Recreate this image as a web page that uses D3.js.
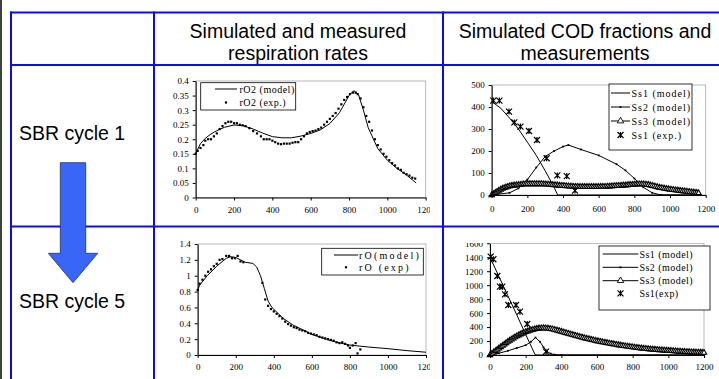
<!DOCTYPE html>
<html>
<head>
<meta charset="utf-8">
<script src="https://cdn.jsdelivr.net/npm/d3@7"></script>
<style>
  body { margin: 0; background: #fff; }
  svg { display: block; }
</style>
</head>
<body>
<svg id="fig" width="719" height="379"></svg>
<script>
// ---- data ----
const xTicks = [0, 200, 400, 600, 800, 1000, 1200];
const rTicks1 = [0, 0.05, 0.1, 0.15, 0.2, 0.25, 0.3, 0.35, 0.4];
const codTicks1 = [0, 100, 200, 300, 400, 500];
const rTicks5 = [0, 0.2, 0.4, 0.6, 0.8, 1, 1.2, 1.4];
const codTicks5 = [0, 200, 400, 600, 800, 1000, 1200, 1400, 1600];

// cycle 1 respiration
const rModelT1 = [0, 25, 50, 75, 100, 150, 200, 250, 300, 350, 400, 450, 500, 550, 600, 650, 700, 750, 800, 825, 850, 875, 900, 950, 1000, 1050, 1100, 1150];
const rModelV1 = [0.151, 0.185, 0.203, 0.216, 0.226, 0.241, 0.249, 0.246, 0.235, 0.221, 0.209, 0.205, 0.205, 0.211, 0.22, 0.232, 0.254, 0.291, 0.35, 0.367, 0.352, 0.30, 0.24, 0.168, 0.128, 0.10, 0.077, 0.05];
const rExpT1 = [0, 10, 25, 40, 50, 65, 80, 95, 110, 125, 140, 155, 170, 185, 200, 215, 230, 245, 260, 280, 300, 320, 340, 355, 370, 385, 400, 415, 430, 445, 460, 475, 490, 505, 520, 535, 550, 565, 580, 595, 610, 625, 640, 655, 670, 685, 700, 715, 730, 745, 760, 775, 790, 805, 820, 835, 845, 860, 875, 890, 905, 920, 935, 950, 965, 980, 995, 1010, 1025, 1040, 1055, 1070, 1085, 1100, 1115, 1130, 1145];
const rExpV1 = [0.15, 0.16, 0.17, 0.18, 0.195, 0.2, 0.2, 0.21, 0.22, 0.235, 0.245, 0.255, 0.26, 0.26, 0.255, 0.255, 0.25, 0.248, 0.245, 0.238, 0.228, 0.22, 0.21, 0.2, 0.2, 0.2, 0.195, 0.19, 0.185, 0.183, 0.185, 0.185, 0.185, 0.188, 0.19, 0.19, 0.2, 0.21, 0.22, 0.225, 0.228, 0.23, 0.235, 0.24, 0.25, 0.26, 0.27, 0.28, 0.29, 0.305, 0.32, 0.335, 0.345, 0.355, 0.36, 0.36, 0.355, 0.34, 0.31, 0.28, 0.26, 0.23, 0.2, 0.18, 0.165, 0.15, 0.14, 0.128, 0.118, 0.11, 0.1, 0.095, 0.085, 0.08, 0.075, 0.068, 0.065];

// cycle 5 respiration
const rModelT5 = [0, 10, 50, 100, 150, 175, 200, 250, 290, 310, 330, 350, 370, 390, 420, 450, 500, 550, 600, 650, 700, 750, 800, 900, 1000, 1100, 1200];
const rModelV5 = [0.82, 0.88, 1.0, 1.12, 1.22, 1.24, 1.23, 1.17, 1.155, 1.11, 1.0, 0.84, 0.68, 0.60, 0.53, 0.46, 0.38, 0.32, 0.26, 0.22, 0.18, 0.15, 0.125, 0.10, 0.08, 0.055, 0.035];
const rExpT5 = [0, 10, 25, 40, 55, 70, 85, 100, 115, 130, 150, 165, 180, 195, 210, 225, 240, 340, 355, 370, 385, 400, 415, 430, 445, 460, 475, 490, 505, 520, 535, 550, 565, 580, 595, 610, 625, 640, 655, 670, 685, 700, 715, 730, 745, 760, 775, 790, 800, 815, 830, 840, 855];
const rExpV5 = [0.82, 0.9, 0.95, 1.0, 1.05, 1.08, 1.12, 1.15, 1.2, 1.21, 1.25, 1.25, 1.22, 1.22, 1.25, 1.18, 1.17, 0.91, 0.7, 0.62, 0.58, 0.55, 0.52, 0.49, 0.46, 0.42, 0.39, 0.37, 0.35, 0.34, 0.32, 0.31, 0.3, 0.28, 0.27, 0.26, 0.25, 0.23, 0.22, 0.21, 0.2, 0.19, 0.18, 0.16, 0.15, 0.16, 0.14, 0.12, 0.09, 0.12, 0.15, 0.02, 0.07];

// COD fractions, cycle 1
const ss1T1 = [0, 50, 100, 150, 200, 250, 300, 350, 370, 1160];
const ss1V1 = [425, 395, 350, 300, 240, 180, 110, 35, 0, 0];
const ss2T1 = [0, 100, 150, 200, 250, 300, 350, 400, 430, 500, 600, 700, 750, 800, 850, 900, 950, 1160];
const ss2V1 = [0, 10, 30, 70, 125, 175, 200, 220, 227, 207, 180, 140, 112, 75, 35, 10, 0, 0];
const ss1ExpT1 = [9, 43, 97, 127, 161, 209, 254, 308, 368, 421, 467];
const ss1ExpV1 = [429, 429, 379, 330, 311, 291, 250, 167, 89, 86, 20];

// COD fractions, cycle 5
const ss1T5 = [0, 50, 100, 150, 200, 250, 255, 1200];
const ss1V5 = [1400, 1125, 850, 575, 295, 20, 0, 0];
const ss2T5 = [0, 50, 100, 150, 200, 230, 255, 280, 300, 320, 340, 360, 400, 1200];
const ss2V5 = [0, 25, 60, 100, 140, 190, 250, 190, 110, 50, 20, 5, 0, 0];
const ss1ExpT5 = [4, 19, 41, 56, 69, 84, 103, 146, 168, 209, 314];
const ss1ExpV5 = [1409, 1371, 1132, 979, 979, 869, 716, 716, 621, 444, 48];

// simulation output times for the dense Ss3 series
const simTime = [
  0, 10, 20, 30, 40, 50, 60, 70, 80, 90,
  100, 110, 120, 130, 140, 150, 160, 170, 180, 190,
  200, 210, 220, 230, 240, 250, 260, 270, 280, 290,
  300, 310, 320, 330, 340, 350, 360, 370, 380, 390,
  400, 410, 420, 430, 440, 450, 460, 470, 480, 490,
  500, 510, 520, 530, 540, 550, 560, 570, 580, 590,
  600, 610, 620, 630, 640, 650, 660, 670, 680, 690,
  700, 710, 720, 730, 740, 750, 760, 770, 780, 790,
  800, 810, 820, 830, 840, 850, 860, 870, 880, 890,
  900, 910, 920, 930, 940, 950, 960, 970, 980, 990,
  1000, 1010, 1020, 1030, 1040, 1050, 1060, 1070, 1080, 1090,
  1100, 1110, 1120, 1130, 1140, 1150, 1160, 1170, 1180, 1190, 1200];
const ss3V1 = [
  0, 5, 10, 15, 20, 25, 29, 32, 35, 38,
  40, 42, 43, 44, 45, 46, 47, 48, 49, 49,
  50, 50, 50, 50, 50, 50, 50, 50, 50, 49,
  49, 48, 48, 47, 46, 45, 45, 44, 43, 42,
  42, 41, 40, 40, 39, 39, 38, 38, 38, 37,
  37, 37, 37, 37, 37, 37, 37, 37, 37, 37,
  37, 38, 38, 38, 38, 39, 39, 40, 40, 41,
  41, 42, 42, 43, 44, 44, 45, 46, 46, 47,
  48, 48, 49, 49, 49, 49, 48, 47, 46, 44,
  42, 40, 38, 36, 34, 32, 31, 29, 28, 27,
  25, 24, 23, 22, 21, 20, 19, 18, 17, 16,
  15, 14, 13, 12, 11, 10, 9];
const ss3V5 = [
  0, 19, 38, 57, 76, 95, 114, 133, 152, 171,
  190, 207, 223, 240, 255, 270, 283, 296, 308, 319,
  330, 339, 348, 356, 363, 370, 375, 379, 382, 384,
  385, 384, 381, 378, 374, 370, 363, 356, 349, 342,
  335, 328, 320, 313, 305, 298, 291, 284, 276, 269,
  262, 255, 249, 242, 236, 230, 224, 218, 212, 206,
  200, 195, 190, 185, 180, 175, 170, 166, 161, 157,
  152, 148, 143, 139, 134, 130, 126, 123, 119, 116,
  112, 109, 105, 102, 98, 95, 92, 90, 87, 85,
  82, 80, 78, 75, 73, 71, 69, 67, 66, 64,
  62, 60, 58, 56, 54, 52, 50, 49, 47, 46,
  44, 43, 42, 40, 39, 38, 37, 36, 35, 34, 33];

// ---- drawing ----
const svg = d3.select("#fig");
const tableBlue = "#0c0cee";
const serif = "'Liberation Serif', 'Times New Roman', serif";
const sans = "'Liberation Sans', Arial, sans-serif";

// slide edge and table grid
svg.append("line").attr("x1", 1).attr("x2", 1).attr("y1", 0).attr("y2", 379)
  .attr("stroke", "#000").attr("stroke-width", 1.5);

[12.5, 65, 226.5].forEach(yy => {
  svg.append("line").attr("x1", 10).attr("x2", 719).attr("y1", yy).attr("y2", yy)
    .attr("stroke", tableBlue).attr("stroke-width", 2);
});
[11, 154, 443].forEach(xx => {
  svg.append("line").attr("x1", xx).attr("x2", xx).attr("y1", 11.5).attr("y2", 379)
    .attr("stroke", tableBlue).attr("stroke-width", 2);
});

// header and row labels
function label(x, y, txt, anchor) {
  svg.append("text").attr("x", x).attr("y", y).attr("text-anchor", anchor || "start")
    .style("font-family", sans).style("font-size", "19.5px").attr("fill", "#000").text(txt);
}
label(298, 38, "Simulated and measured", "middle");
label(298, 59.5, "respiration rates", "middle");
label(585, 38, "Simulated COD fractions and", "middle");
label(585, 59.5, "measurements", "middle");
label(19, 139.5, "SBR cycle 1");
label(19, 308, "SBR cycle 5");

// the arrow from cycle 1 to cycle 5
svg.append("path")
  .attr("d", "M60.3,162.7 L85.7,162.7 L85.7,253.3 L97.7,253.3 L73,282.7 L48.3,253.3 L60.3,253.3 Z")
  .attr("fill", "#3a66f8").attr("stroke", "#1b2f80").attr("stroke-width", 0.8);

function starPath(h) {
  return `M${-h},${-h}L${h},${h}M${-h},${h}L${h},${-h}M0,${-h}L0,${h}`;
}
const triSym = d3.symbol().type(d3.symbolTriangle).size(13);

function drawMarks(g, s, pts, x, y) {
  const line = d3.line().x(d => x(d[0])).y(d => y(d[1]));
  if (s.kind === "line" || s.kind === "lineDot" || s.kind === "tri") {
    g.append("path").datum(pts).attr("d", line)
      .attr("fill", "none").attr("stroke", "#000").attr("stroke-width", 1);
  }
  if (s.kind === "dots" || s.kind === "lineDot") {
    const sz = s.kind === "dots" ? 2.2 : 1.8;
    g.selectAll(null).data(pts).enter().append("rect")
      .attr("x", d => x(d[0]) - sz / 2).attr("y", d => y(d[1]) - sz / 2)
      .attr("width", sz).attr("height", sz).attr("fill", "#000");
  }
  if (s.kind === "tri") {
    g.selectAll(null).data(pts).enter().append("path")
      .attr("d", triSym)
      .attr("transform", d => `translate(${x(d[0])},${y(d[1])})`)
      .attr("fill", "#fff").attr("stroke", "#000").attr("stroke-width", 1.1);
  }
  if (s.kind === "star") {
    g.selectAll(null).data(pts).enter().append("path")
      .attr("d", starPath(3))
      .attr("transform", d => `translate(${x(d[0])},${y(d[1])})`)
      .attr("fill", "none").attr("stroke", "#000").attr("stroke-width", 1.2);
  }
}

function drawChart(c) {
  const clipId = "clip-" + c.id;
  svg.append("clipPath").attr("id", clipId).append("rect")
    .attr("x", c.area[0]).attr("y", c.area[1]).attr("width", c.area[2]).attr("height", c.area[3]);
  const g = svg.append("g").attr("clip-path", `url(#${clipId})`);

  const x = d3.scaleLinear().domain([0, 1200]).range(c.xr);
  const y = d3.scaleLinear().domain([0, c.yMax]).range(c.yr);

  // plot area frame
  g.append("rect").attr("x", x(0)).attr("y", y(c.yMax))
    .attr("width", x(1200) - x(0)).attr("height", y(0) - y(c.yMax))
    .attr("fill", "none").attr("stroke", "#a8a8a8").attr("stroke-width", 0.8);

  c.series.forEach(s => {
    const pts = s.v.map((v, i) => [s.t[i], v]);
    drawMarks(g, s, pts, x, y);
  });

  const ax = g.append("g").attr("transform", `translate(0,${y(0)})`)
    .call(d3.axisBottom(x).tickValues(xTicks).tickSize(3).tickSizeOuter(0).tickPadding(c.xPad).tickFormat(d => String(d)));
  const ay = g.append("g").attr("transform", `translate(${x(0)},0)`)
    .call(d3.axisLeft(y).tickValues(c.yTicks).tickSize(3).tickSizeOuter(0).tickPadding(4).tickFormat(d => String(d)));
  [ax, ay].forEach(a => {
    a.selectAll("text").style("font-family", serif).style("font-size", "9px").attr("fill", "#000");
    a.selectAll("line").attr("stroke", "#000");
    a.select(".domain").attr("stroke", "#000");
  });

  // legend
  const L = c.legend;
  g.append("rect").attr("x", L.box[0]).attr("y", L.box[1]).attr("width", L.box[2]).attr("height", L.box[3])
    .attr("fill", "#fff").attr("stroke", "#000").attr("stroke-width", 0.8);
  c.series.forEach((s, i) => {
    const ly = L.rows[i];
    const mid = (L.sample[0] + L.sample[1]) / 2;
    if (s.kind !== "dots" && s.kind !== "star") {
      g.append("line").attr("x1", L.sample[0]).attr("x2", L.sample[1]).attr("y1", ly).attr("y2", ly)
        .attr("stroke", "#000").attr("stroke-width", 1);
    }
    if (s.kind === "dots" || s.kind === "lineDot") {
      const sz = s.kind === "dots" ? 2.2 : 1.8;
      g.append("rect").attr("x", mid - sz / 2).attr("y", ly - sz / 2).attr("width", sz).attr("height", sz).attr("fill", "#000");
    }
    if (s.kind === "tri") {
      g.append("path").attr("d", d3.symbol().type(d3.symbolTriangle).size(18)).attr("transform", `translate(${mid},${ly})`)
        .attr("fill", "#fff").attr("stroke", "#000").attr("stroke-width", 0.9);
    }
    if (s.kind === "star") {
      g.append("path").attr("d", starPath(3)).attr("transform", `translate(${mid},${ly})`)
        .attr("fill", "none").attr("stroke", "#000").attr("stroke-width", 1.2);
    }
    g.append("text").attr("x", L.textX).attr("y", ly).attr("dy", "0.35em")
      .style("font-family", serif).style("font-size", L.fontSize + "px")
      .style("letter-spacing", L.spacing + "px").attr("fill", "#000").text(s.name);
  });
}

drawChart({
  id: "r1", area: [155, 67, 275, 159], xr: [195.7, 425.7], yr: [197.5, 81], yMax: 0.4, yTicks: rTicks1, xPad: 6,
  series: [
    { name: "rO2 (model)", kind: "line", t: rModelT1, v: rModelV1 },
    { name: "rO2 (exp.)", kind: "dots", t: rExpT1, v: rExpV1 }
  ],
  legend: { box: [200.7, 82.7, 95, 27.3], rows: [89, 102.5], sample: [215, 237], textX: 239.5, fontSize: 10, spacing: 0.5 }
});

drawChart({
  id: "c1", area: [444, 67, 275, 159], xr: [491.7, 705.7], yr: [195, 85], yMax: 500, yTicks: codTicks1, xPad: 8,
  series: [
    { name: "Ss1 (model)", kind: "line", t: ss1T1, v: ss1V1 },
    { name: "Ss2 (model)", kind: "lineDot", t: ss2T1, v: ss2V1 },
    { name: "Ss3 (model)", kind: "tri", t: simTime, v: ss3V1 },
    { name: "Ss1 (exp.)", kind: "star", t: ss1ExpT1, v: ss1ExpV1 }
  ],
  legend: { box: [609, 84, 83, 66], rows: [93, 107, 121, 135], sample: [611, 630], textX: 631.5, fontSize: 10, spacing: 1.0 }
});

drawChart({
  id: "r5", area: [155, 236, 275, 143], xr: [197.7, 426], yr: [355, 244], yMax: 1.4, yTicks: rTicks5, xPad: 6,
  series: [
    { name: "rO(model)", kind: "line", t: rModelT5, v: rModelV5 },
    { name: "rO (exp)", kind: "dots", t: rExpT5, v: rExpV5 }
  ],
  legend: { box: [321.7, 248.3, 101.6, 26.7], rows: [255, 267.3], sample: [334, 358], textX: 359, fontSize: 10, spacing: 2.2 }
});

drawChart({
  id: "c5", area: [444, 243, 275, 136], xr: [490, 704], yr: [355, 243.3], yMax: 1600, yTicks: codTicks5, xPad: 6,
  series: [
    { name: "Ss1 (model)", kind: "line", t: ss1T5, v: ss1V5 },
    { name: "Ss2 (model)", kind: "lineDot", t: ss2T5, v: ss2V5 },
    { name: "Ss3 (model)", kind: "tri", t: simTime, v: ss3V5 },
    { name: "Ss1(exp)", kind: "star", t: ss1ExpT5, v: ss1ExpV5 }
  ],
  legend: { box: [599, 246, 111, 64], rows: [254, 267.3, 280.7, 293.3], sample: [602.7, 638.3], textX: 639.5, fontSize: 10, spacing: 0.45 }
});
</script>
</body>
</html>
